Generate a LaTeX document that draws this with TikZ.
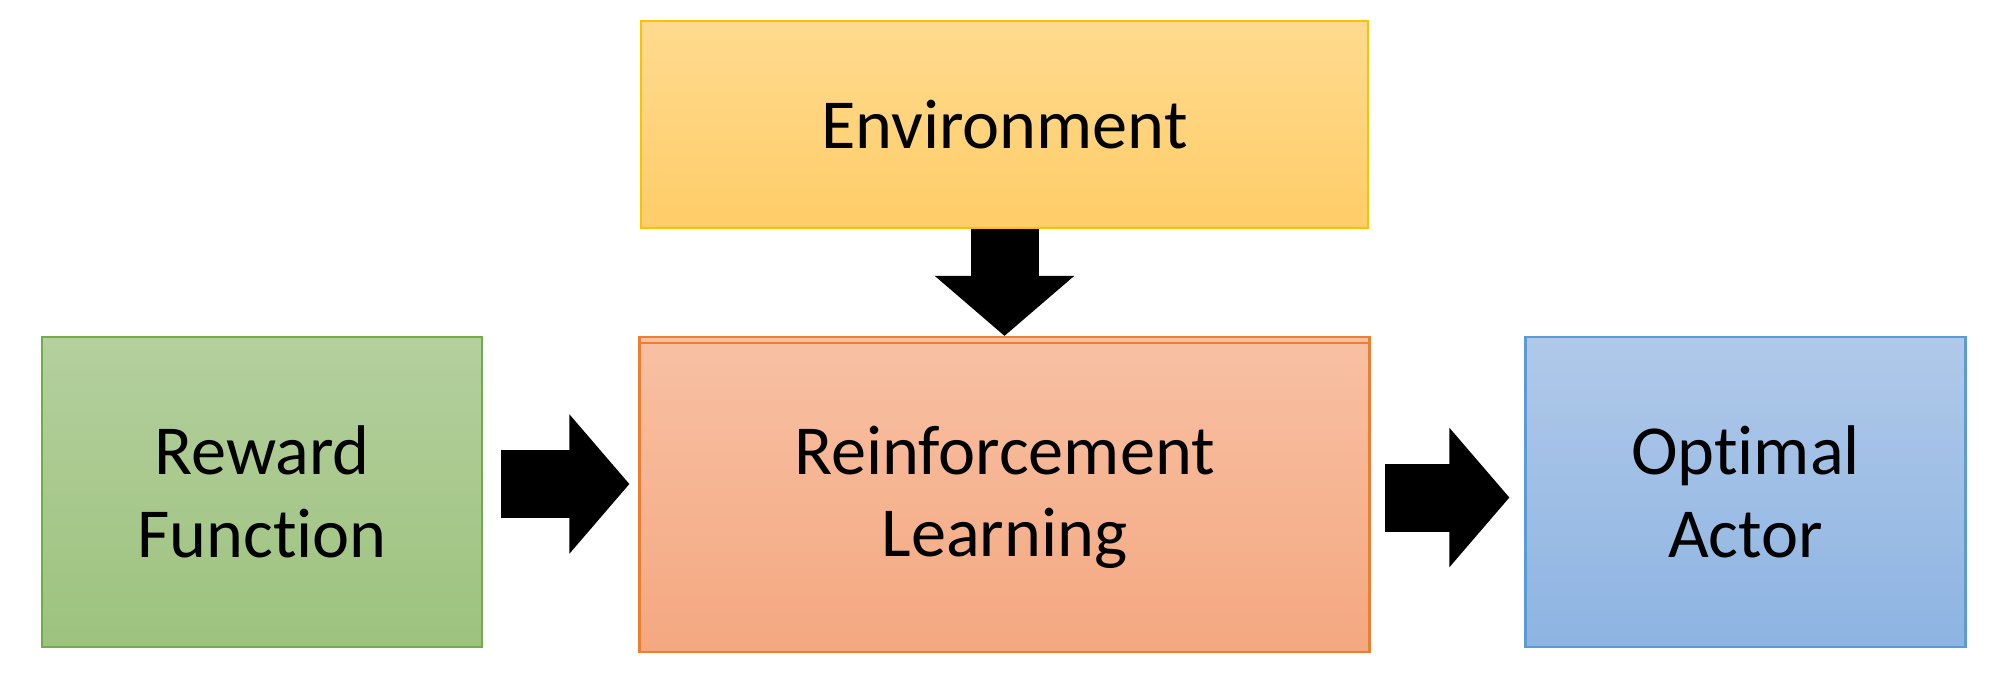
\documentclass[tikz,border=0pt]{standalone}
\usepackage{fontspec}
\setmainfont{Carlito}[RawFeature={-liga;-clig;-calt;-dlig}]
\usepackage{xcolor}
\usetikzlibrary{arrows.meta,positioning}

\definecolor{envtop}{RGB}{255,218,143}
\definecolor{envbot}{RGB}{255,205,104}
\definecolor{envedge}{RGB}{255,192,0}
\definecolor{rewtop}{RGB}{180,208,158}
\definecolor{rewbot}{RGB}{157,194,126}
\definecolor{rewedge}{RGB}{112,173,71}
\definecolor{rltop}{RGB}{248,192,163}
\definecolor{rlbot}{RGB}{244,168,128}
\definecolor{rledge}{RGB}{237,125,49}
\definecolor{acttop}{RGB}{176,201,233}
\definecolor{actbot}{RGB}{141,180,226}
\definecolor{actedge}{RGB}{91,155,213}

\begin{document}
\begin{tikzpicture}[
  block/.style={draw, line width=0.6pt, align=center, inner sep=0pt,
    font=\fontsize{20}{23.5}\selectfont, text=black},
  wide/.style={block, minimum width=7.30cm},
  square/.style={block, minimum width=4.40cm, minimum height=3.10cm},
  bigarrow/.style={line width=0.68cm, draw=black,
    -{Triangle[length=0.6cm, width=1.36cm]}}
]
\useasboundingbox (0,0) rectangle (19.94,-6.83);

\node[wide, minimum height=3.09cm, draw=rledge, fill=rltop]
  (learning-back) at (10.045,-4.915) {};
\node[wide, minimum height=3.09cm, draw=rledge, top color=rltop, bottom color=rlbot]
  (learning) at (10.045,-4.975) {Reinforcement\\Learning};
\node[wide, minimum width=7.27cm, minimum height=2.07cm, draw=envedge,
  top color=envtop, bottom color=envbot, above=1.07cm of learning-back] (environment) {Environment};
\node[square, draw=rewedge, top color=rewtop, bottom color=rewbot]
  (reward) at (2.62,-4.92) {Reward\\Function};
\node[square, draw=actedge, top color=acttop, bottom color=actbot]
  (actor) at (17.455,-4.92) {Optimal\\Actor};

\coordinate (reward-out) at ([yshift=0.08cm]reward.east);
\draw[bigarrow] (environment) -- (learning-back);
\draw[bigarrow, shorten <=0.18cm, shorten >=0.09cm] (reward-out) -- (reward-out -| learning.west);
\draw[bigarrow, shorten <=0.14cm, shorten >=0.15cm] (learning.east) -- (learning.east -| actor.west);
\end{tikzpicture}
\end{document}
